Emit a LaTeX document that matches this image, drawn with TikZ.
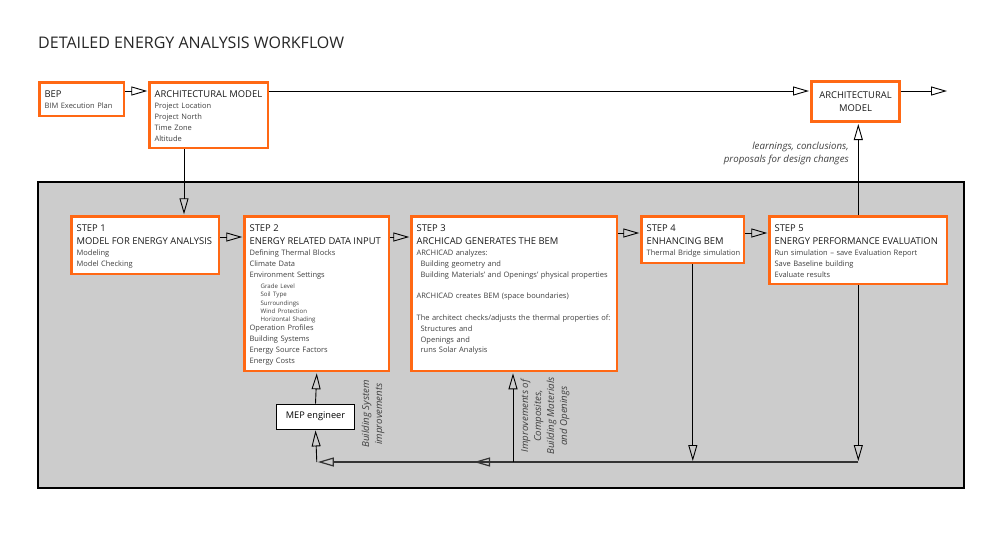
\documentclass[tikz,border=0pt]{standalone}
\usepackage{fontspec}
\setmainfont{Open Sans}
\usetikzlibrary{arrows.meta}

\definecolor{boxorange}{RGB}{255,104,20}
\definecolor{panelgrey}{RGB}{204,204,204}
\newcommand{\hdfont}{\fontsize{9.4}{13}\selectfont\color{black!90}}
\newcommand{\txfont}{\fontsize{7.5}{10.8}\selectfont}
\newcommand{\smfont}{\fontsize{6.1}{8.2}\selectfont}

\begin{document}
\begin{tikzpicture}[x=1pt,y=-1pt,
  stepbox/.style={draw=boxorange, line width=2.6pt, fill=white, anchor=north west,
    inner xsep=5pt, inner ysep=0pt, align=left, text height=15pt, font=\txfont, text=black!75},
  box/.style 2 args={stepbox, text width=#1, text depth=#2},
  arr/.style={-{Triangle[open,length=16pt,width=9pt]}, line width=0.9pt, shorten >=1pt},
  note/.style={font=\itshape\fontsize{9.7}{13}\selectfont, text=black!75, inner sep=0pt}]
\useasboundingbox (0,0) rectangle (998,536);

% title
\node[anchor=base west, inner sep=0pt, font=\fontsize{16}{19}\selectfont, text=black!85]
  (title) at (38,48) {DETAILED ENERGY ANALYSIS WORKFLOW};

% grey panel behind the steps
\draw[fill=panelgrey, line width=1.2pt] (38,182) rectangle (964,488);

% rows and columns the connectors run along
\coordinate (rowA) at (0,91);
\coordinate (row1) at (0,237);
\coordinate (row2) at (0,233);
\coordinate (base) at (0,462);
\coordinate (colA) at (184,0);
\coordinate (j3) at (513,462);
\coordinate (mid) at (473,462);
\coordinate (out) at (948,91);

% top row
\node[box={74.4pt}{18.4pt}] (bep) at (38.3,81.3)
  {{\hdfont BEP}\\ BIM Execution Plan};
\node[box={108.4pt}{50.4pt}] (arch) at (148.3,81.3)
  {{\hdfont ARCHITECTURAL MODEL}\\[0.5pt] Project Location\\ Project North\\ Time Zone\\ Altitude};
\node[draw=boxorange, line width=2.6pt, fill=white, minimum width=88.4pt, minimum height=40.4pt,
  align=center, font=\hdfont] (arch2) at (855.5,101.5) {ARCHITECTURAL\\ MODEL};

% steps
\node[box={137.4pt}{42.4pt}] (s1) at (70.3,215.3)
  {{\hdfont STEP 1\\[2.5pt] MODEL FOR ENERGY ANALYSIS}\\ Modeling\\ Model Checking};
\node[box={134.4pt}{139.4pt}] (s2) at (243.3,215.3)
  {{\hdfont STEP 2\\[2.5pt] ENERGY RELATED DATA INPUT}\\ Defining Thermal Blocks\\ Climate Data\\ Environment Settings\par
   \vspace{3.2pt}{\smfont\leftskip=11pt Grade Level\\ Soil Type\\ Surroundings\\ Wind Protection\\ Horizontal Shading\par}
   \vspace{-1.6pt}Operation Profiles\\ Building Systems\\ Energy Source Factors\\ Energy Costs};
\node[box={195.4pt}{139.4pt}] (s3) at (410.3,215.3)
  {{\hdfont STEP 3\\[2.5pt] ARCHICAD GENERATES THE BEM}\\ ARCHICAD analyzes:\\
   \hspace*{4pt}Building geometry and\\ \hspace*{4pt}Building Materials' and Openings' physical properties\\[10.8pt]
   ARCHICAD creates BEM (space boundaries)\\[10.8pt]
   The architect checks/adjusts the thermal properties of:\\ \hspace*{4pt}Structures and\\
   \hspace*{4pt}Openings and\\ \hspace*{4pt}runs Solar Analysis};
\node[box={92.4pt}{31.4pt}] (s4) at (640.3,215.3)
  {{\hdfont STEP 4\\[2.5pt] ENHANCING BEM}\\ \mbox{Thermal Bridge simulation}};
\node[box={167.4pt}{52.4pt}] (s5) at (768.3,215.3)
  {{\hdfont STEP 5\\[2.5pt] ENERGY PERFORMANCE EVALUATION}\\ Run simulation -- save Evaluation Report\\
   Save Baseline building\\ Evaluate results};

\node[draw, line width=0.8pt, fill=white, minimum width=78pt, minimum height=25pt,
  font=\fontsize{9.2}{10}\selectfont] (mep) at (315.5,416.5) {MEP engineer};

% main flow
\draw[arr] (bep.east |- rowA) -- (arch.west |- rowA);
\draw[arr] (arch.east |- rowA) -- (arch2.west |- rowA);
\draw[arr] (arch2.east |- rowA) -- (out);
\draw[arr] (arch.south -| colA) -- (s1.north -| colA);
\draw[arr] (s1.east |- row1) -- (s2.west |- row1);
\draw[arr] (s2.east |- row1) -- (s3.west |- row1);
\draw[arr] (s3.east |- row2) -- (s4.west |- row2);
\draw[arr] (s4.east |- row2) -- (s5.west |- row2);
\draw[arr] (s5.north) -- (arch2.south -| s5.north);

% feedback loop along the bottom
\draw[arr] (s4.south) -- (s4.south |- base);
\draw[arr] (s5.south) -- (s5.south |- base);
\draw[line width=1.2pt, black!80] (s5.south |- base) -- (j3);
\draw[arr] (j3) -- (j3 |- s3.south);
\draw[arr, line width=1.2pt, black!80] (j3) -- (mid);
\draw[arr, line width=1.2pt, black!80] (j3) -- (s2.south |- base);
\draw[arr] (s2.south |- base) -- (mep.south);
\draw[arr] (mep.north) -- (s2.south);

% labels
\node[note, anchor=north east, align=right] (learn) at (849,142)
  {learnings, conclusions,\\ proposals for design changes};
\node[note, rotate=90, align=center] (bsys) at (373,414) {Building System\\ improvements};
\node[note, rotate=90, align=center] (impr) at (545,416)
  {Improvements of\\ Composites,\\ Building Materials\\ and Openings};
\end{tikzpicture}
\end{document}
